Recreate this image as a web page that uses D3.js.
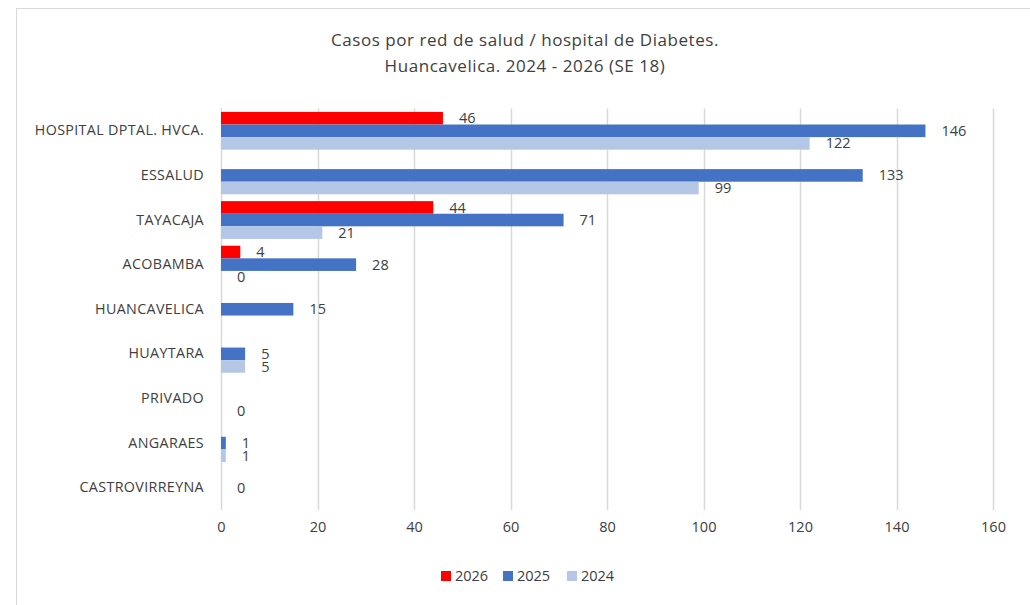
<!DOCTYPE html>
<html>
<head>
<meta charset="utf-8">
<script src="https://cdn.jsdelivr.net/npm/d3@7"></script>
<style>
  body { margin: 0; background: #fff; }
  svg { display: block; font-family: "Open Sans", Lato, sans-serif; }
</style>
</head>
<body>
<svg id="chart" width="1030" height="605"></svg>
<script>
const categories = ["HOSPITAL DPTAL. HVCA.", "ESSALUD", "TAYACAJA", "ACOBAMBA", "HUANCAVELICA", "HUAYTARA", "PRIVADO", "ANGARAES", "CASTROVIRREYNA"];
const seriesNames = ["2026", "2025", "2024"];
const values2026 = [46, null, 44, 4, null, null, null, null, null];
const values2025 = [146, 133, 71, 28, 15, 5, null, 1, 0];
const values2024 = [122, 99, 21, 0, null, 5, 0, 1, null];
const seriesColors = ["#FF0000", "#4472C4", "#B4C7E7"];
const xTicks = [0, 20, 40, 60, 80, 100, 120, 140, 160];
const titleLines = ["Casos por red de salud / hospital de Diabetes.", "Huancavelica. 2024 - 2026 (SE 18)"];

const seriesValues = [values2026, values2025, values2024];
const svg = d3.select("#chart");
const textColor = "#404040";
const fontFam = "'Open Sans', Lato, sans-serif";

// chart border
svg.append("rect").attr("x", 16.5).attr("y", 8.5).attr("width", 1030).attr("height", 620)
  .attr("fill", "#fff").attr("stroke", "#d9d9d9").attr("stroke-width", 1);

const plot = { left: 221, right: 993, top: 108.5, bottom: 510 };

const x = d3.scaleLinear().domain([0, 160]).range([plot.left, plot.right]);
const y = d3.scaleBand().domain(categories).range([plot.top, plot.bottom])
  .paddingInner(0.153).paddingOuter(0.0765);
const ys = d3.scaleBand().domain(seriesNames).range([0, y.bandwidth()]);

// title
svg.append("g").selectAll("text").data(titleLines).join("text")
  .attr("x", 525).attr("y", (d, i) => 46 + i * 26)
  .attr("text-anchor", "middle").attr("font-size", 17).attr("letter-spacing", 0.55)
  .attr("fill", textColor)
  .text(d => d);

// gridlines
svg.append("g").selectAll("line").data(xTicks).join("line")
  .attr("x1", d => Math.round(x(d)) + 0.5).attr("x2", d => Math.round(x(d)) + 0.5)
  .attr("y1", plot.top).attr("y2", plot.bottom)
  .attr("stroke", "#d9d9d9").attr("stroke-width", 1.5);

// x axis labels
const xAxis = d3.axisBottom(x).tickValues(xTicks).tickSize(0).tickPadding(0);
const gx = svg.append("g").attr("transform", `translate(0, ${plot.bottom + 12})`).call(xAxis);
gx.select(".domain").remove();
gx.selectAll("text").attr("font-size", 14.5).attr("fill", textColor)
  .attr("font-family", fontFam);

// y axis labels
const yAxis = d3.axisLeft(y).tickSize(0).tickPadding(0);
const gy = svg.append("g").attr("transform", `translate(${plot.left - 17}, 0)`).call(yAxis);
gy.select(".domain").remove();
gy.selectAll("text").attr("font-size", 14.3).attr("letter-spacing", 0.35).attr("fill", textColor)
  .attr("font-family", fontFam);

// bars and labels
const barData = [];
categories.forEach((c, ci) => {
  seriesNames.forEach((s, si) => {
    const v = seriesValues[si][ci];
    if (v !== null) barData.push({ cat: c, series: s, value: v, color: seriesColors[si] });
  });
});

svg.append("g").selectAll("rect").data(barData).join("rect")
  .attr("x", x(0))
  .attr("y", d => y(d.cat) + ys(d.series))
  .attr("width", d => x(d.value) - x(0))
  .attr("height", ys.bandwidth())
  .attr("fill", d => d.color);

svg.append("g").selectAll("text").data(barData).join("text")
  .attr("x", d => x(d.value) + 16)
  .attr("y", d => y(d.cat) + ys(d.series) + ys.bandwidth() / 2)
  .attr("dy", "0.35em")
  .attr("font-size", 14.5).attr("fill", textColor)
  .text(d => d.value);

// legend
const legendX = [441, 503, 567];
const lg = svg.append("g").selectAll("g").data(seriesNames).join("g")
  .attr("transform", (d, i) => `translate(${legendX[i]}, 571)`);
lg.append("rect").attr("width", 10).attr("height", 10).attr("fill", (d, i) => seriesColors[i]);
lg.append("text").attr("x", 14).attr("y", 5).attr("dy", "0.35em")
  .attr("font-size", 14.5).attr("fill", textColor).text(d => d);
</script>
</body>
</html>
